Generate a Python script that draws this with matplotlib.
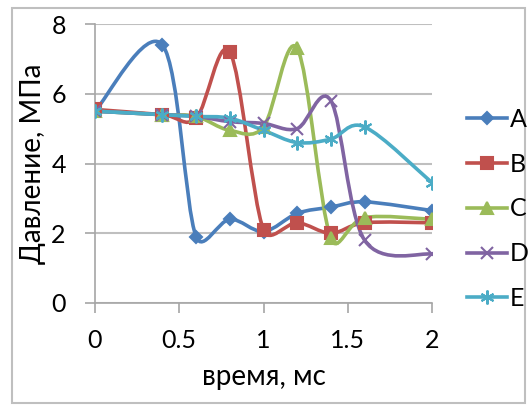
import math

import matplotlib
matplotlib.use("Agg")
import matplotlib.pyplot as plt
from matplotlib.path import Path
from matplotlib.patches import PathPatch, Rectangle
from matplotlib.lines import Line2D

# time, ms
time_ms = [0, 0.4, 0.6, 0.8, 1.0, 1.2, 1.4, 1.6, 2.0]

# pressure, MPa
series_a = [5.5, 7.4, 1.9, 2.4, 2.05, 2.57, 2.75, 2.9, 2.65]
series_b = [5.55, 5.4, 5.3, 7.2, 2.1, 2.3, 2.0, 2.3, 2.3]
series_c = [5.5, 5.4, 5.35, 4.95, 5.05, 7.3, 1.85, 2.45, 2.4]
series_d = [5.5, 5.4, 5.35, 5.2, 5.15, 5.0, 5.8, 1.8, 1.4]
series_e = [5.5, 5.4, 5.35, 5.3, 4.95, 4.6, 4.7, 5.05, 3.45]

labels = ["A", "B", "C", "D", "E"]
x_ticks = [0, 0.5, 1, 1.5, 2]
y_ticks = [0, 2, 4, 6, 8]

colors = ["#4A7EBB", "#C0504D", "#9BBB59", "#8064A2", "#4BACC6"]
markers = ["D", "s", "^", "x", (6, 2, 0)]
msizes = [6, 8, 8, 8, 10]

# rough pixel scale of the plot area, used only to limit the smoothing
SX, SY = 168.5, 35.0


def smooth_path(xs, ys):
    # Excel-like smoothed line: Bezier with tension 1/6, control arm
    # limited to half of the segment length
    pts = list(zip(xs, ys))

    def dist(p, q):
        return math.hypot((q[0] - p[0]) * SX, (q[1] - p[1]) * SY)

    verts = [pts[0]]
    codes = [Path.MOVETO]
    n = len(pts)
    for i in range(n - 1):
        p0 = pts[i - 1] if i > 0 else pts[i]
        p1 = pts[i]
        p2 = pts[i + 1]
        p3 = pts[i + 2] if i + 2 < n else pts[i + 1]
        d12 = dist(p1, p2)
        d02 = dist(p0, p2)
        d13 = dist(p1, p3)
        f0 = 1 / 6
        f1 = 1 / 6
        if d02 / 6 > d12 / 2 and d02 > 0:
            f0 = d12 / d02 / 2
        if d13 / 6 > d12 / 2 and d13 > 0:
            f1 = d12 / d13 / 2
        c1 = (p1[0] + (p2[0] - p0[0]) * f0, p1[1] + (p2[1] - p0[1]) * f0)
        c2 = (p2[0] - (p3[0] - p1[0]) * f1, p2[1] - (p3[1] - p1[1]) * f1)
        verts += [c1, c2, p2]
        codes += [Path.CURVE4] * 3
    return Path(verts, codes)


plt.rcParams["font.family"] = ["Lato", "DejaVu Sans"]

fig = plt.figure(figsize=(5.31, 4.05), dpi=100)
ax = fig.add_axes([95 / 531, 1 - 303 / 405, (432 - 95) / 531, (303 - 24) / 405])

all_series = [series_a, series_b, series_c, series_d, series_e]
for ys, col, mk, ms in zip(all_series, colors, markers, msizes):
    ax.add_patch(PathPatch(smooth_path(time_ms, ys), facecolor="none",
                           edgecolor=col, lw=2.6, capstyle="round", zorder=3))
    ax.plot(time_ms, ys, linestyle="none", marker=mk, color=col,
            markersize=ms, markeredgewidth=1.5, zorder=4)

ax.set_xlim(0, 2)
ax.set_ylim(0, 8)
ax.set_xticks(x_ticks)
ax.set_xticklabels([f"{t:g}" for t in x_ticks])
ax.set_yticks(y_ticks)
ax.grid(axis="y", color="#BFBFBF", lw=1.5)
ax.set_axisbelow(True)
for side in ["top", "right"]:
    ax.spines[side].set_visible(False)
for side in ["left", "bottom"]:
    ax.spines[side].set_color("#A6A6A6")
    ax.spines[side].set_linewidth(1.2)
ax.tick_params(axis="both", colors="#A6A6A6", length=7, width=1.2,
               labelsize=18, labelcolor="black")
ax.tick_params(axis="y", pad=14)
ax.tick_params(axis="x", pad=12)
ax.set_xlabel("время, мс", fontsize=20, labelpad=8)
ax.set_ylabel("Давление, МПа", fontsize=20, labelpad=4)

handles = [Line2D([0], [0], color=c, marker=m, markersize=s, lw=2.6,
                  markeredgewidth=1.5) for c, m, s in zip(colors, markers, msizes)]
fig.legend(handles, labels, loc="center left", frameon=False, fontsize=18,
           bbox_to_anchor=(457 / 531, 1 - 209 / 405), handlelength=1.6,
           handletextpad=0.1, labelspacing=0.87, borderaxespad=0)

fig.patches.append(Rectangle((12 / 531, 2 / 405), (525 - 12) / 531, (403 - 8) / 405,
                             transform=fig.transFigure, fill=False,
                             edgecolor="#BFBFBF", lw=1.5))

fig.savefig("out.png", dpi=100)
